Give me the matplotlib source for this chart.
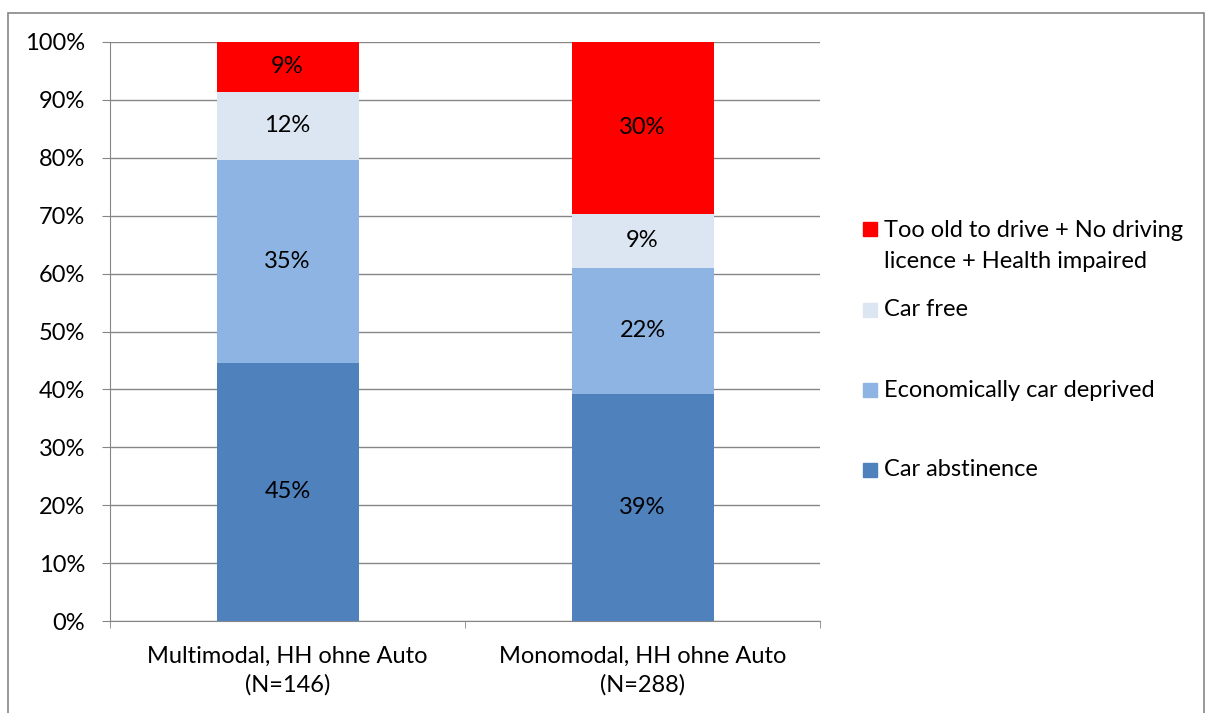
import numpy as np
import matplotlib.pyplot as plt
from matplotlib.patches import Rectangle

plt.rcParams['font.family'] = ['Lato', 'DejaVu Sans']

groups = ['Multimodal, HH ohne Auto\n(N=146)', 'Monomodal, HH ohne Auto\n(N=288)']
series = ['Car abstinence', 'Economically car deprived', 'Car free',
          'Too old to drive + No driving\nlicence + Health impaired']
abstinence = [44.6, 39.2]
deprived = [35.0, 21.8]
car_free = [11.8, 9.3]
too_old = [8.6, 29.7]
colors = ['#4F81BD', '#8EB4E3', '#DCE6F2', '#FF0000']

W, H = 1206, 713
fs = 17
fig = plt.figure(figsize=(W / 100, H / 100), dpi=100)
ax = fig.add_axes([110 / W, (H - 621) / H, 710 / W, 579 / H])

x = np.arange(len(groups))
bottom = np.zeros(len(groups))
for vals, c in zip([abstinence, deprived, car_free, too_old], colors):
    vals = np.array(vals)
    ax.bar(x, vals, 0.4, bottom=bottom, color=c, zorder=3)
    for xi, b, v in zip(x, bottom, vals):
        ax.text(xi, b + v / 2, '%d%%' % round(v), ha='center', va='center',
                fontsize=fs, zorder=4)
    bottom += vals

grey = '#868686'
ax.set_xlim(-0.5, 1.5)
ax.set_ylim(0, 100)
ax.set_yticks(np.arange(0, 101, 10))
ax.set_yticklabels(['%d%%' % v for v in range(0, 101, 10)], fontsize=fs)
ax.yaxis.grid(True, color=grey, linewidth=1, zorder=0)
ax.set_xticks(x)
ax.set_xticklabels(groups, fontsize=fs, linespacing=1.4)
ax.set_xticks([-0.5, 0.5, 1.5], minor=True)
ax.tick_params(axis='x', which='major', length=0, pad=18)
ax.tick_params(axis='x', which='minor', length=5, color=grey)
ax.tick_params(axis='y', length=5.8, color=grey, pad=12)
for s in ['top', 'right']:
    ax.spines[s].set_visible(False)
for s in ['left', 'bottom']:
    ax.spines[s].set_color(grey)

# legend, drawn by hand to keep Excel's spacing
leg_y = [246, 310, 390, 470]
for name, c, yy in zip(series[::-1], colors[::-1], leg_y):
    top_line = yy if '\n' not in name else 229
    fig.patches.append(Rectangle((863 / W, 1 - (top_line + 7) / H), 14 / W, 14 / H,
                                 transform=fig.transFigure, color=c))
    fig.text(884 / W, 1 - yy / H, name, va='center', ha='left', fontsize=fs,
             linespacing=1.55)

# chart border
fig.patches.append(Rectangle((8 / W, -0.01), (1204 - 8) / W, 1 - 13 / H + 0.01,
                             transform=fig.transFigure, fill=False,
                             edgecolor=grey, linewidth=1.2))

fig.savefig('out.png', dpi=100)
